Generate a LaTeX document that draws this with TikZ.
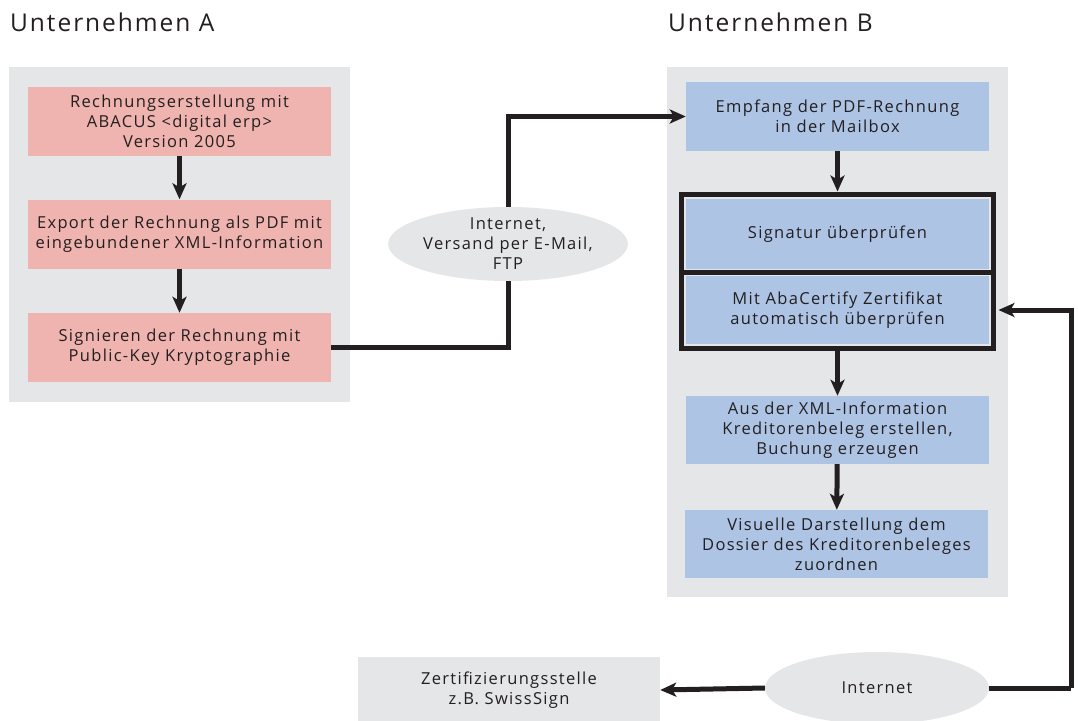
\documentclass[tikz,border=0pt]{standalone}
\usepackage{fontspec}
\setmainfont[LetterSpace=8]{Open Sans}
\newfontfamily\titlefont[LetterSpace=8]{Open Sans}
\usetikzlibrary{arrows.meta,shapes.geometric,fit}
\definecolor{panel}{HTML}{E5E6E8}
\definecolor{pink}{HTML}{EFB4AF}
\definecolor{blue}{HTML}{AEC4E5}
\definecolor{ink}{HTML}{231F20}
\tikzset{
  panelbox/.style={fill=panel, draw=none},
  pinkbox/.style={fill=pink, draw=none, minimum width=303pt, minimum height=69pt, inner sep=0pt, align=center, text=ink, font=\fontsize{16.5}{20}\selectfont},
  bluebox/.style={pinkbox, fill=blue},
  greybox/.style={pinkbox, fill=panel},
  cloud/.style={ellipse, fill=panel, draw=none, inner sep=0pt, align=center, text=ink, font=\fontsize{16.5}{20}\selectfont},
  title/.style={anchor=base west, inner sep=0pt, text=ink, font=\titlefont\fontsize{24.5}{28}\selectfont},
  flow/.style={draw=ink, line width=5pt, -{Stealth[length=16pt,width=14pt,inset=4pt]}},
  plain/.style={draw=ink, line width=5pt}
}
\begin{document}
\begin{tikzpicture}[x=1pt,y=-1pt]
\useasboundingbox (0,0) rectangle (1078,720);
% titles
\node[title] (ta) at (10,31) {Unternehmen A};
\node[title] (tb) at (668,31) {Unternehmen B};
% panels
\fill[panelbox] (9,67) rectangle (350,402);
\fill[panelbox] (667,67) rectangle (1008,597);
% left boxes
\node[pinkbox] (erst) at (179.5,121.5) {Rechnungserstellung mit\\ABACUS <digital erp>\\Version 2005};
\node[pinkbox] (exp) at (179.5,234) {Export der Rechnung als PDF mit\\eingebundener XML-Information};
\node[pinkbox] (sign) at (179.5,347.5) {Signieren der Rechnung mit\\Public-Key Kryptographie};
% right boxes
\node[bluebox] (empf) at (837.5,116.5) {Empfang der PDF-Rechnung\\in der Mailbox};
\node[bluebox, minimum height=70pt] (sig) at (837.5,234) {Signatur überprüfen};
\node[bluebox, minimum height=68pt] (aba) at (837.5,310) {Mit AbaCertify Zertifikat\\automatisch überprüfen};
\node[fit=(sig)(aba), inner sep=4.5pt, draw=ink, line width=5.5pt] (frame) {};
\path (sig.south) -- (aba.north) coordinate[midway] (mid);
\draw[plain, line width=5.5pt] (frame.west |- mid) -- (frame.east |- mid);
\node[bluebox, minimum height=68pt] (aus) at (837.5,430) {Aus der XML-Information\\Kreditorenbeleg erstellen,\\Buchung erzeugen};
\node[bluebox, minimum height=68pt] (vis) at (836.5,544) {Visuelle Darstellung dem\\Dossier des Kreditorenbeleges\\zuordnen};
% bottom
\node[greybox, minimum width=302pt, minimum height=66pt] (cert) at (509,690) {Zertifizierungsstelle\\z.B. SwissSign};
% ellipses
\node[cloud, minimum width=223pt, minimum height=74pt] (net1) at (508,244) {Internet,\\Versand per E-Mail,\\FTP};
\node[cloud, minimum width=224pt, minimum height=72pt] (net2) at (877,688) {Internet};
\coordinate (corner) at (1071,688);
% arrows left
\draw[flow] (erst) -- (exp);
\draw[flow] (exp) -- (sign);
% send path
\draw[plain] (sign.east) -| (net1.south);
\draw[flow] (net1.north) |- (empf.west);
% right arrows
\draw[flow] (empf) -- (frame.north);
\draw[flow] (frame.south) -- (aus);
\draw[flow] (aus) -- (vis);
% feedback
\draw[plain] (net2.east) -- (corner);
\draw[flow] (corner) |- ([xshift=2pt]frame.east |- aba.east);
\draw[flow] (net2.west) -- (cert.east);
\end{tikzpicture}
\end{document}
